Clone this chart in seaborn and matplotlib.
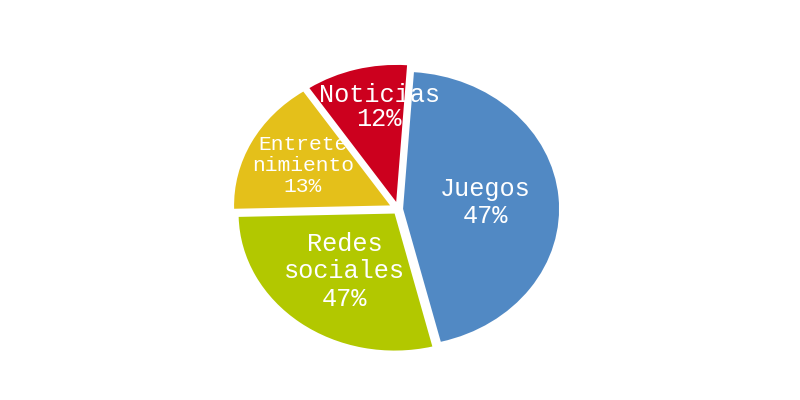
import matplotlib
matplotlib.use("Agg")
import matplotlib.pyplot as plt
import seaborn as sns
import numpy as np

# Data (slice sizes; printed labels as shown in the chart)
categories = ["Juegos", "Redes\nsociales", "Entrete\nnimiento", "Noticias"]
values = [45, 28.5, 16, 10.5]
pct_labels = ["47%", "47%", "13%", "12%"]

# Styles
colors = ["#5189C4", "#B2C800", "#E4C01A", "#CC001E"]
explode = [0.03, 0.04, 0.06, 0.055]
label_dist = [0.53, 0.53, 0.63, 0.70]
label_turn = [0, 0, 0, -6]
font_sizes = [18.2, 18.2, 15.3, 18.2]
line_sp = [1.12, 1.17, 1.13, 1.0]

sns.set_theme(style="white")
plt.rcParams["font.family"] = ["Liberation Mono", "DejaVu Sans"]

fig = plt.figure(figsize=(8, 4), dpi=100)
fig.patch.set_facecolor("white")
ax = fig.add_axes([0.264, 0.066, 0.468, 0.822])

wedges, _ = ax.pie(values, colors=colors, explode=explode, startangle=86,
                   counterclock=False, radius=1.0,
                   wedgeprops=dict(linewidth=0, antialiased=True))
ax.set_aspect("auto")
ax.set_xlim(-1.2, 1.2)
ax.set_ylim(-1.2, 1.2)
ax.axis("off")

for w, cat, pct, d, turn, fs, ls in zip(wedges, categories, pct_labels, label_dist,
                                         label_turn, font_sizes, line_sp):
    theta = np.deg2rad((w.theta1 + w.theta2) / 2 + turn)
    cx, cy = w.center
    x = cx + d * w.r * np.cos(theta)
    y = cy + d * w.r * np.sin(theta)
    ax.text(x, y, f"{cat}\n{pct}", ha="center", va="center", color="white",
            fontsize=fs, linespacing=ls, zorder=5)

fig.savefig("out.png", dpi=100, facecolor="white")
